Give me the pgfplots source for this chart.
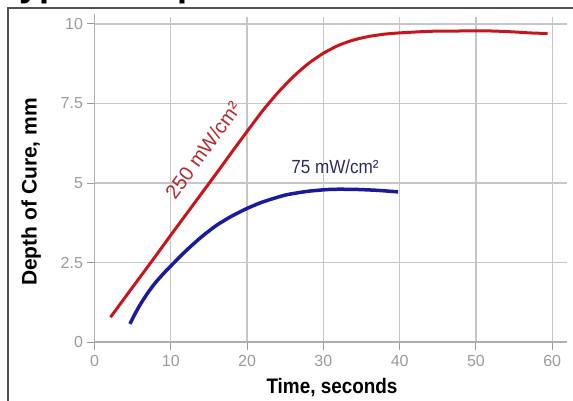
\documentclass[border=0pt]{standalone}
\usepackage{fontspec}
\setmainfont{Liberation Sans}
\newfontfamily\condfont[FakeStretch=0.9]{Liberation Sans}
\usepackage{pgfplots}
\pgfplotsset{compat=1.18}

\definecolor{curvered}{HTML}{C4161C}
\definecolor{curveblue}{HTML}{1A1A9E}
\definecolor{labelred}{HTML}{B02A30}
\definecolor{labelblue}{HTML}{2C2C64}
\definecolor{gridgray}{HTML}{C6C6C6}
\definecolor{tickgray}{HTML}{9A9A9A}
\definecolor{framegray}{HTML}{505050}

\begin{document}
\begin{tikzpicture}[x=1pt,y=1pt]
    \useasboundingbox (0,0) rectangle (573,400);
    % cut-off title and outer frame
    \node[anchor=base west, inner sep=0pt, font=\fontsize{36}{36}\selectfont\bfseries]
        at (0,403.6) {Typical Depth of Cure};
    \draw[framegray, line width=2.2pt] (8,-5) -- (8,392) -- (580,392);

    \begin{axis}[
        at={(94.5pt,58pt)}, anchor=south west,
        scale only axis,
        width=473pt, height=325pt,
        xmin=0, xmax=62, ymin=0, ymax=10.22,
        xtick={0,10,...,60},
        ytick={0,2.5,5,7.5,10},
        axis line style={draw=none},
        xtick pos=bottom, ytick pos=left,
        tick align=outside,
        major tick length=8pt,
        tick style={tickgray, line width=1pt},
        grid=major,
        grid style={gridgray, line width=1.2pt},
        /pgf/number format/assume math mode=true,
        ticklabel style={font=\fontsize{16}{16}\selectfont, text=tickgray},
        xticklabel style={yshift=-2pt},
        clip=false,
    ]
    \draw[tickgray!80, line width=1.4pt] (axis cs:0,0) -- (axis cs:62,0);
    \draw[tickgray!80, line width=1.4pt] (axis cs:0,0) -- (axis cs:0,10.3);

    % 250 mW/cm2
    \addplot[curvered, line width=3pt, smooth, tension=0.4] coordinates {
        (2.1, 0.78)
        (4, 1.40)
        (6, 2.05)
        (8, 2.70)
        (10, 3.36)
        (12, 4.01)
        (14, 4.66)
        (16, 5.31)
        (18, 5.97)
        (20, 6.62)
        (22, 7.26)
        (24, 7.83)
        (26, 8.33)
        (28, 8.75)
        (30, 9.08)
        (32, 9.33)
        (34, 9.50)
        (36, 9.61)
        (38, 9.68)
        (40, 9.72)
        (44, 9.77)
        (48, 9.78)
        (52, 9.78)
        (55, 9.75)
        (57, 9.72)
        (59.4, 9.70)
    };

    % 75 mW/cm2
    \addplot[curveblue, line width=3.5pt, smooth, tension=0.4] coordinates {
        (4.65, 0.57)
        (5.3, 0.88)
        (6, 1.18)
        (7, 1.55)
        (8, 1.87)
        (9, 2.14)
        (10, 2.39)
        (12, 2.87)
        (14, 3.30)
        (16, 3.67)
        (18, 3.96)
        (20, 4.20)
        (22, 4.40)
        (25, 4.62)
        (28, 4.74)
        (31, 4.80)
        (34, 4.80)
        (37, 4.77)
        (39.8, 4.72)
    };
    \end{axis}

    % curve labels
    \node[rotate=54, text=labelred, font=\fontsize{20}{20}\selectfont]
        at (203,250) {250 mW/cm²};
    \node[anchor=base, text=labelblue, font=\condfont\fontsize{19}{19}\selectfont]
        at (335,227) {75 mW/cm²};

    % axis titles
    \node[anchor=base, font=\condfont\bfseries\fontsize{21}{21}\selectfont]
        at (332,7) {Time, seconds};
    \node[anchor=base, rotate=90, font=\bfseries\fontsize{21}{21}\selectfont]
        at (36.7,208) {Depth of Cure, mm};
\end{tikzpicture}
\end{document}
